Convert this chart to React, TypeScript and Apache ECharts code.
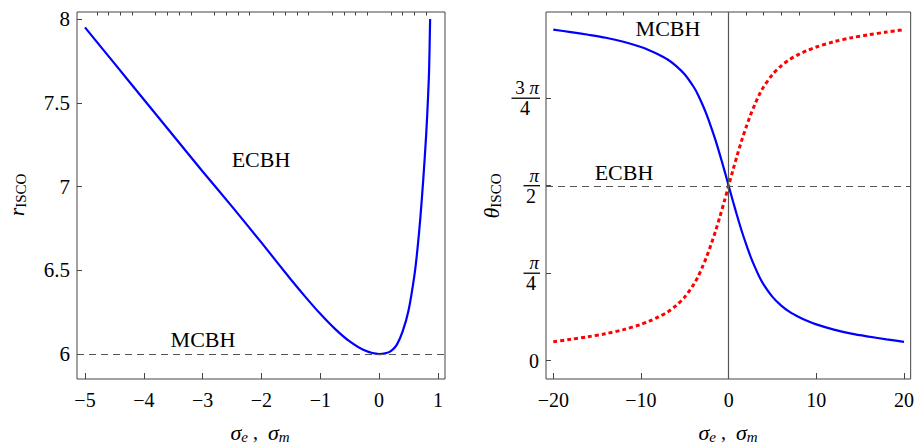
import React, { useEffect, useRef } from 'react';
import * as echarts from 'echarts';

// ---------- Left panel: r_ISCO vs sigma ----------
const leftSigma = [-5, -4.5, -4, -3.5, -3, -2.5, -2, -1.5, -1.25, -1, -0.75, -0.5, -0.25, 0, 0.1, 0.2, 0.3, 0.4, 0.5, 0.6, 0.65, 0.7, 0.75, 0.8, 0.83, 0.85, 0.867];
const leftR = [7.95, 7.735, 7.52, 7.305, 7.09, 6.88, 6.665, 6.445, 6.34, 6.24, 6.15, 6.075, 6.022, 6.0, 6.004, 6.018, 6.055, 6.135, 6.26, 6.47, 6.62, 6.81, 7.04, 7.31, 7.52, 7.7, 8.0];
const leftXTicks = [-5, -4, -3, -2, -1, 0, 1];
const leftYTicks = [6, 6.5, 7, 7.5, 8];
const leftMCBHLevel = 6;

// ---------- Right panel: theta_ISCO vs sigma ----------
const rightSigma = [-20, -18, -16, -14, -12, -10, -9, -8, -7, -6, -5, -4, -3.5, -3, -2.5, -2, -1.5, -1, -0.5, 0, 0.5, 1, 1.5, 2, 2.5, 3, 3.5, 4, 5, 6, 7, 8, 9, 10, 12, 14, 16, 18, 20];
const thetaBlue = [2.972, 2.95, 2.926, 2.899, 2.863, 2.816, 2.785, 2.749, 2.706, 2.647, 2.569, 2.459, 2.388, 2.302, 2.207, 2.097, 1.98, 1.85, 1.713, 1.571, 1.429, 1.292, 1.162, 1.045, 0.935, 0.84, 0.754, 0.683, 0.573, 0.495, 0.436, 0.393, 0.357, 0.326, 0.279, 0.243, 0.216, 0.192, 0.17];
const thetaRed = [0.17, 0.192, 0.216, 0.243, 0.279, 0.326, 0.357, 0.393, 0.436, 0.495, 0.573, 0.683, 0.754, 0.84, 0.935, 1.045, 1.162, 1.292, 1.429, 1.571, 1.713, 1.85, 1.98, 2.097, 2.207, 2.302, 2.388, 2.459, 2.569, 2.647, 2.706, 2.749, 2.785, 2.816, 2.863, 2.899, 2.926, 2.95, 2.972];
const rightXTicks = [-20, -10, 0, 10, 20];
const rightYTicks = [0, Math.PI / 4, Math.PI / 2, (3 * Math.PI) / 4];
const rightFractionTicks = [Math.PI / 4, Math.PI / 2, (3 * Math.PI) / 4];
const rightECBHLevel = Math.PI / 2;

const FONT = "'Liberation Serif', 'DejaVu Serif', serif";
const FRAME = '#444';

function minorTicks(from: number, to: number, step: number, majors: number[]): number[] {
  const out: number[] = [];
  const n = Math.round((to - from) / step);
  for (let k = 0; k <= n; k++) {
    const v = Math.round((from + k * step) * 1000) / 1000;
    if (!majors.some((m) => Math.abs(m - v) < 1e-6)) out.push(v);
  }
  return out;
}

const fmtNum = (v: number) => (v < 0 ? '\u2212' + String(Math.abs(v)) : String(v));

function fmtTheta(v: number): string {
  if (Math.abs(v) < 1e-6) return '0';
  if (Math.abs(v - Math.PI / 4) < 1e-6) return '{n|\u03c0}\n{b| }\n{d|4}';
  if (Math.abs(v - Math.PI / 2) < 1e-6) return '{n|\u03c0}\n{b| }\n{d|2}';
  return '{n3|3 }{n|\u03c0}\n{b3| }\n{d3|4}';
}

export default function App() {
  const ref = useRef<HTMLDivElement>(null);
  useEffect(() => {
    document.body.style.margin = '0';
    if (!ref.current) return;
    const chart = echarts.init(ref.current, undefined, { renderer: 'svg' });

    const labelBase = { fontFamily: FONT, color: '#000' };
    const tickStyle = { color: FRAME, width: 1 };

    const xAxisCommon = {
      type: 'value' as const,
      axisLine: { show: false, onZero: false },
      splitLine: { show: false },
    };
    const yAxisCommon = {
      type: 'value' as const,
      axisLine: { show: false, onZero: false },
      splitLine: { show: false },
    };

    const textGraphics: any[] = [
      { type: 'text', x: 261, y: 159, style: { text: 'ECBH', font: `22px ${FONT}`, fill: '#000', textAlign: 'center', textVerticalAlign: 'middle' } },
      { type: 'text', x: 203, y: 339, style: { text: 'MCBH', font: `22px ${FONT}`, fill: '#000', textAlign: 'center', textVerticalAlign: 'middle' } },
      { type: 'text', x: 668, y: 28, style: { text: 'MCBH', font: `22px ${FONT}`, fill: '#000', textAlign: 'center', textVerticalAlign: 'middle' } },
      { type: 'text', x: 624, y: 172, style: { text: 'ECBH', font: `22px ${FONT}`, fill: '#000', textAlign: 'center', textVerticalAlign: 'middle' } },
      ...[260, 728].map((cx) => ({
        type: 'text', x: cx, y: 432,
        style: {
          text: '{i|\u03c3}{s|e}{p| ,  }{i|\u03c3}{s|m}',
          textAlign: 'center', textVerticalAlign: 'middle',
          rich: {
            i: { fontFamily: FONT, fontStyle: 'italic', fontSize: 22, lineHeight: 24, verticalAlign: 'middle', fill: '#000' },
            s: { fontFamily: FONT, fontStyle: 'italic', fontSize: 15, lineHeight: 8, verticalAlign: 'bottom', fill: '#000' },
            p: { fontFamily: FONT, fontSize: 20, lineHeight: 24, verticalAlign: 'middle', fill: '#000' },
          },
        },
      })),
      {
        type: 'text', x: 16, y: 195, rotation: Math.PI / 2,
        style: {
          text: '{i|r}{s|ISCO}',
          textAlign: 'center', textVerticalAlign: 'middle',
          rich: {
            i: { fontFamily: FONT, fontStyle: 'italic', fontSize: 22, lineHeight: 24, verticalAlign: 'middle', fill: '#000' },
            s: { fontFamily: FONT, fontSize: 15, lineHeight: 10, verticalAlign: 'bottom', fill: '#000' },
          },
        },
      },
      {
        type: 'text', x: 491, y: 196, rotation: Math.PI / 2,
        style: {
          text: '{i|\u03b8}{s|ISCO}',
          textAlign: 'center', textVerticalAlign: 'middle',
          rich: {
            i: { fontFamily: FONT, fontStyle: 'italic', fontSize: 22, lineHeight: 24, verticalAlign: 'middle', fill: '#000' },
            s: { fontFamily: FONT, fontSize: 15, lineHeight: 10, verticalAlign: 'bottom', fill: '#000' },
          },
        },
      },
    ];

    const option: any = {
      animation: false,
      backgroundColor: '#fff',
      grid: [
        { left: 77, top: 12, width: 368, height: 367, show: true, borderColor: FRAME, borderWidth: 1, backgroundColor: 'transparent' },
        { left: 546, top: 12, width: 367, height: 367, show: true, borderColor: FRAME, borderWidth: 1, backgroundColor: 'transparent' },
      ],
      xAxis: [
        {
          ...xAxisCommon, gridIndex: 0, min: -5.136, max: 1.12,
          axisTick: { inside: true, length: 6, customValues: leftXTicks, lineStyle: tickStyle },
          axisLabel: { ...labelBase, customValues: leftXTicks, formatter: fmtNum, fontSize: 20, margin: 11 },
        },
        {
          ...xAxisCommon, gridIndex: 0, min: -5.136, max: 1.12,
          axisTick: { inside: true, length: 3.5, customValues: minorTicks(-5, 1, 0.2, leftXTicks), lineStyle: tickStyle },
          axisLabel: { show: false },
        },
        {
          ...xAxisCommon, gridIndex: 1, min: -20.83, max: 20.76,
          axisTick: { inside: true, length: 6, customValues: rightXTicks, lineStyle: tickStyle },
          axisLabel: { ...labelBase, customValues: rightXTicks, formatter: fmtNum, fontSize: 20, margin: 11 },
        },
        {
          ...xAxisCommon, gridIndex: 1, min: -20.83, max: 20.76,
          axisTick: { inside: true, length: 3.5, customValues: minorTicks(-20, 20, 2, rightXTicks), lineStyle: tickStyle },
          axisLabel: { show: false },
        },
      ],
      yAxis: [
        {
          ...yAxisCommon, gridIndex: 0, min: 5.851, max: 8.042,
          axisTick: { inside: true, length: 5, customValues: leftYTicks, lineStyle: tickStyle },
          axisLabel: { ...labelBase, customValues: leftYTicks, formatter: (v: number) => String(v), fontSize: 21, margin: 7 },
        },
        {
          ...yAxisCommon, gridIndex: 1, min: -0.164, max: 3.13,
          axisTick: { inside: true, length: 5, customValues: rightYTicks, lineStyle: tickStyle },
          axisLabel: {
            ...labelBase, customValues: rightYTicks, formatter: fmtTheta, fontSize: 20, margin: 7,
            rich: {
              n: { fontFamily: FONT, fontStyle: 'italic', fontSize: 19, lineHeight: 17, color: '#000' },
              b: { width: 16, lineHeight: 3, fontSize: 2 },
              d: { fontFamily: FONT, fontSize: 20, width: 16, align: 'center', lineHeight: 18, color: '#000' },
              n3: { fontFamily: FONT, fontSize: 19, lineHeight: 17, color: '#000' },
              b3: { width: 28, lineHeight: 3, fontSize: 2 },
              d3: { fontFamily: FONT, fontSize: 20, width: 28, align: 'center', lineHeight: 18, color: '#000' },
            },
          },
        },
      ],
      series: [
        {
          type: 'line', xAxisIndex: 0, yAxisIndex: 0,
          data: leftSigma.map((s, i) => [s, leftR[i]]),
          showSymbol: false, smooth: 0.3,
          lineStyle: { color: '#0000ff', width: 2.2 },
          markLine: {
            silent: true, symbol: ['none', 'none'], label: { show: false },
            lineStyle: { type: [7, 5], color: '#555', width: 1.2 },
            data: [{ yAxis: leftMCBHLevel }],
          },
        },
        {
          type: 'line', xAxisIndex: 2, yAxisIndex: 1,
          data: rightSigma.map((s, i) => [s, thetaRed[i]]),
          showSymbol: false, smooth: 0.3,
          lineStyle: { color: '#ff0000', width: 3, type: [4, 3], cap: 'butt' },
          markLine: {
            silent: true, symbol: ['none', 'none'], label: { show: false },
            data: [
              { yAxis: rightECBHLevel, lineStyle: { type: [7, 5], color: '#555', width: 1.2 } },
              { xAxis: 0, lineStyle: { type: 'solid', color: '#555', width: 1.2 } },
            ],
          },
        },
        {
          type: 'line', xAxisIndex: 2, yAxisIndex: 1,
          data: rightSigma.map((s, i) => [s, thetaBlue[i]]),
          showSymbol: false, smooth: 0.3,
          lineStyle: { color: '#0000ff', width: 2.2 },
        },
      ],
      graphic: textGraphics,
    };

    chart.setOption(option);

    // fraction bars of the theta tick labels, placed with the axis scale
    const bars = rightFractionTicks.map((v, i) => {
      const py = chart.convertToPixel({ yAxisIndex: 1 }, v) as number;
      const wide = i === 2;
      return {
        type: 'line',
        shape: { x1: wide ? 511.5 : 523.5, y1: py, x2: 540, y2: py },
        style: { stroke: '#000', lineWidth: 1.3 },
      };
    });
    chart.setOption({ graphic: [...textGraphics, ...bars] });

    return () => chart.dispose();
  }, []);

  return <div ref={ref} style={{ width: 917, height: 444 }} />;
}
